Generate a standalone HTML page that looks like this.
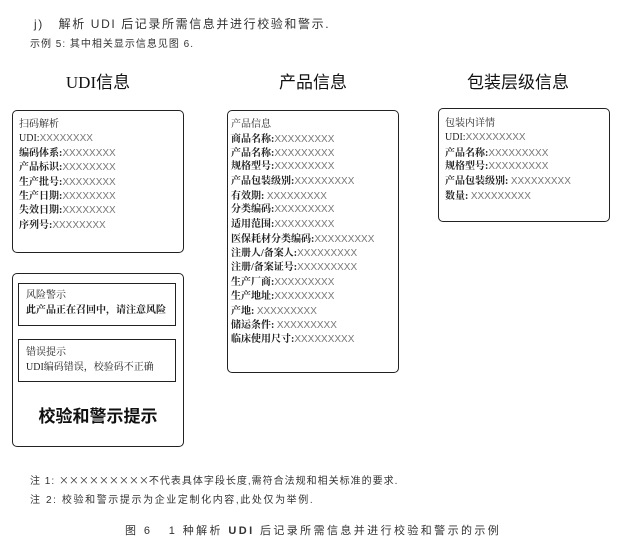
<!DOCTYPE html>
<html><head><meta charset="utf-8"><style>
body{margin:0;width:622px;height:552px;background:#fff;position:relative;overflow:hidden;font-family:"Liberation Serif","Noto Serif CJK SC",serif;color:#111}
.a{position:absolute;white-space:nowrap;line-height:1}
.box{position:absolute;border:1.5px solid #222;border-radius:5px;box-sizing:border-box}
.ib{position:absolute;border:1.5px solid #222;box-sizing:border-box}
.t{font-size:10px;font-weight:bold;color:#222}
.x{color:#777;font-weight:normal;font-family:"Liberation Sans",sans-serif;font-size:10px}
.h{font-family:"Liberation Sans","Noto Sans CJK SC",sans-serif;font-size:11px;color:#333}
.ti{font-family:"Liberation Serif","Noto Sans CJK SC",sans-serif;font-size:17px;color:#111;transform:translateX(-50%)}
.fx{font-family:"Noto Sans CJK SC",sans-serif}
</style></head><body>
<div class="a h" style="left:34px;top:18px;font-size:12px;letter-spacing:1.6px">j)&nbsp;&nbsp; 解析 UDI 后记录所需信息并进行校验和警示.</div>
<div class="a h" style="left:30px;top:40px;font-size:10px;letter-spacing:1px">示例 5: 其中相关显示信息见图 6.</div>

<div class="a ti" style="left:98px;top:74px">UDI信息</div>
<div class="a ti" style="left:313px;top:74px">产品信息</div>
<div class="a ti" style="left:518px;top:74px">包装层级信息</div>

<div class="box" style="left:12px;top:110px;width:172px;height:143px"></div>
<div class="a t" style="left:19px;top:120px;font-weight:normal">扫码解析</div>
<div class="a t" style="left:19px;top:134px;font-weight:normal">UDI:<span class="x">XXXXXXXX</span></div>
<div class="a t" style="left:19px;top:149px">编码体系:<span class="x">XXXXXXXX</span></div>
<div class="a t" style="left:19px;top:163px">产品标识:<span class="x">XXXXXXXX</span></div>
<div class="a t" style="left:19px;top:178px">生产批号:<span class="x">XXXXXXXX</span></div>
<div class="a t" style="left:19px;top:192px">生产日期:<span class="x">XXXXXXXX</span></div>
<div class="a t" style="left:19px;top:206px">失效日期:<span class="x">XXXXXXXX</span></div>
<div class="a t" style="left:19px;top:221px">序列号:<span class="x">XXXXXXXX</span></div>

<div class="box" style="left:227px;top:110px;width:172px;height:263px"></div>
<div class="a t" style="left:231px;top:120px;font-weight:normal">产品信息</div>
<div class="a t" style="left:231px;top:135px">商品名称:<span class="x">XXXXXXXXX</span></div>
<div class="a t" style="left:231px;top:149px">产品名称:<span class="x">XXXXXXXXX</span></div>
<div class="a t" style="left:231px;top:162px">规格型号:<span class="x">XXXXXXXXX</span></div>
<div class="a t" style="left:231px;top:177px">产品包装级别:<span class="x">XXXXXXXXX</span></div>
<div class="a t" style="left:231px;top:192px">有效期: <span class="x">XXXXXXXXX</span></div>
<div class="a t" style="left:231px;top:205px">分类编码:<span class="x">XXXXXXXXX</span></div>
<div class="a t" style="left:231px;top:220px">适用范围:<span class="x">XXXXXXXXX</span></div>
<div class="a t" style="left:231px;top:235px">医保耗材分类编码:<span class="x">XXXXXXXXX</span></div>
<div class="a t" style="left:231px;top:249px">注册人/备案人:<span class="x">XXXXXXXXX</span></div>
<div class="a t" style="left:231px;top:263px">注册/备案证号:<span class="x">XXXXXXXXX</span></div>
<div class="a t" style="left:231px;top:278px">生产厂商:<span class="x">XXXXXXXXX</span></div>
<div class="a t" style="left:231px;top:292px">生产地址:<span class="x">XXXXXXXXX</span></div>
<div class="a t" style="left:231px;top:307px">产地: <span class="x">XXXXXXXXX</span></div>
<div class="a t" style="left:231px;top:321px">储运条件: <span class="x">XXXXXXXXX</span></div>
<div class="a t" style="left:231px;top:335px">临床使用尺寸:<span class="x">XXXXXXXXX</span></div>

<div class="box" style="left:438px;top:108px;width:172px;height:114px"></div>
<div class="a t" style="left:445px;top:119px;font-weight:normal">包装内详情</div>
<div class="a t" style="left:445px;top:133px;font-weight:normal">UDI:<span class="x">XXXXXXXXX</span></div>
<div class="a t" style="left:445px;top:149px">产品名称:<span class="x">XXXXXXXXX</span></div>
<div class="a t" style="left:445px;top:162px">规格型号:<span class="x">XXXXXXXXX</span></div>
<div class="a t" style="left:445px;top:177px">产品包装级别: <span class="x">XXXXXXXXX</span></div>
<div class="a t" style="left:445px;top:192px">数量: <span class="x">XXXXXXXXX</span></div>

<div class="box" style="left:12px;top:273px;width:172px;height:174px"></div>
<div class="ib" style="left:18px;top:283px;width:158px;height:43px"></div>
<div class="a t" style="left:26px;top:291px;font-weight:normal">风险警示</div>
<div class="a t" style="left:26px;top:306px">此产品正在召回中，请注意风险</div>
<div class="ib" style="left:18px;top:339px;width:158px;height:43px"></div>
<div class="a t" style="left:26px;top:348px;font-weight:normal">错误提示</div>
<div class="a t" style="left:26px;top:363px;font-weight:normal">UDI编码错误，校验码不正确</div>
<div class="a" style="left:98px;top:406px;transform:translateX(-50%);font-size:17px;font-weight:bold;font-family:'Noto Sans CJK SC',sans-serif">校验和警示提示</div>

<div class="a h" style="left:30px;top:475px;font-size:10px;letter-spacing:1px">注 1: <span class="fx" style="letter-spacing:0">×××××××××</span>不代表具体字段长度,需符合法规和相关标准的要求.</div>
<div class="a h" style="left:30px;top:496px;font-size:10px;letter-spacing:1.6px">注 2: 校验和警示提示为企业定制化内容,此处仅为举例.</div>
<div class="a h" style="left:125px;top:526px;font-size:11px;letter-spacing:2.4px">图 6&nbsp;&nbsp; 1 种解析 <b>UDI</b> 后记录所需信息并进行校验和警示的示例</div>
</body></html>
